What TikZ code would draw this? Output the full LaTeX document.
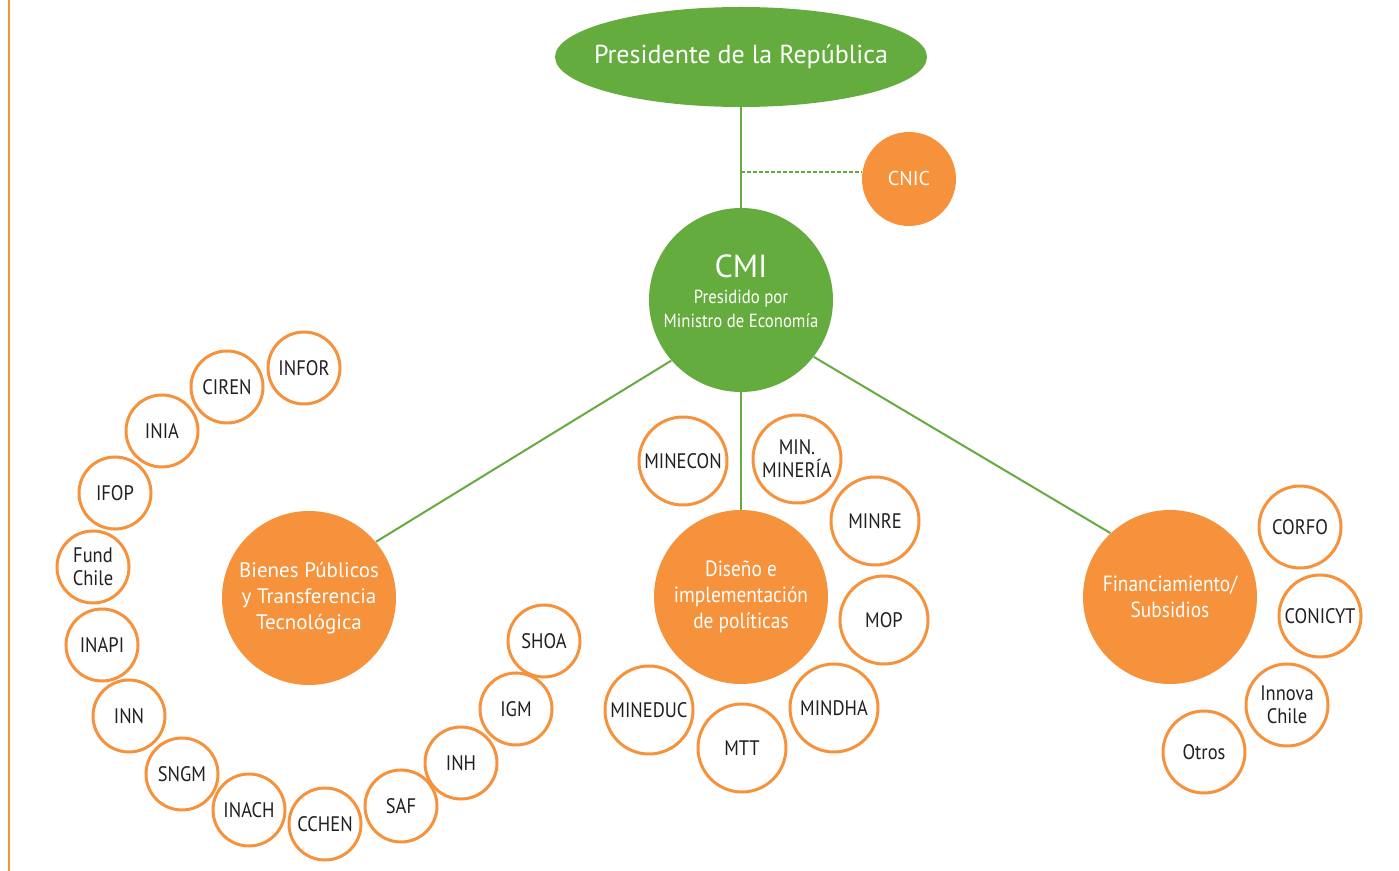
\documentclass[tikz,border=0pt]{standalone}
\usepackage{fontspec}
\setmainfont{PT Sans}
\newfontfamily\estrecha{PT Sans}[FakeStretch=0.88]
\usetikzlibrary{shapes.geometric}
\definecolor{verde}{RGB}{101,172,62}
\definecolor{naranja}{RGB}{246,146,60}
\definecolor{tinta}{RGB}{35,31,32}
\tikzset{
  enlace/.style={draw=verde, line width=1pt},
  grande/.style={circle, fill=naranja, text=white, minimum size=87pt, inner sep=0pt, align=center, font=\estrecha\fontsize{11}{13}\selectfont},
  chico/.style={circle, draw=naranja, line width=1.5pt, fill=white, text=tinta, minimum size=#1, inner sep=0pt, align=center, font=\estrecha\fontsize{10.5}{11.5}\selectfont},
  chico/.default=36pt
}
\begin{document}
\begin{tikzpicture}[x=0.5pt, y=-0.5pt]
	\useasboundingbox (0,0) rectangle (1399,871);
	\draw [draw=naranja, line width=1pt] (9,0) -- (9,871);
	% cabeza
	\node [ellipse, fill=verde, minimum width=186pt, minimum height=50pt, inner sep=0pt,
	  label={[text=white, font=\fontsize{13}{15}\selectfont]center:Presidente de la República}] (presidente) at (741,57) {};
	\node [circle, fill=naranja, text=white, minimum size=47pt, inner sep=0pt, font=\fontsize{10}{12}\selectfont] (cnic) at (909,179) {CNIC};
	\node [circle, fill=verde, minimum size=92pt, inner sep=0pt,
	  label={[text=white, align=center, yshift=4.5pt]center:{{\fontsize{16}{18}\selectfont CMI}\\[1pt] {\estrecha\fontsize{9.5}{12}\selectfont Presidido por}\\ {\estrecha\fontsize{9.5}{12}\selectfont Ministro de Economía}}}] (cmi) at (741,300) {};
	% tres ejes
	\node [grande, font=\fontsize{10.5}{13}\selectfont] (bienes) at (309,598) {Bienes Públicos\\ y Transferencia\\ Tecnológica};
	\node [grande] (diseno) at (741,597) {Diseño e\\ implementación\\ de políticas};
	\node [grande] (financ) at (1170,597) {Financiamiento/\\ Subsidios};
	\coordinate (tap) at (741,172);
	\draw [enlace] (presidente) -- (cmi);
	\draw [enlace, dash pattern=on 2pt off 1pt, line width=0.6pt] (tap) -- (tap -| cnic.west);
	\draw [enlace] (cmi.221) -- (bienes.40);
	\draw [enlace] (cmi) -- (diseno);
	\draw [enlace] (cmi.322) -- (financ.133);
	% bienes publicos
	\node [chico] (infor) at (304,368) {INFOR};
	\node [chico] (ciren) at (227,387) {CIREN};
	\node [chico] (inia) at (162,431) {INIA};
	\node [chico] (ifop) at (115,493) {IFOP};
	\node [chico] (fundchile) at (93,567) {Fund\\ Chile};
	\node [chico] (inapi) at (102,645) {INAPI};
	\node [chico] (inn) at (129,716) {INN};
	\node [chico] (sngm) at (182,774) {SNGM};
	\node [chico] (inach) at (249,810) {INACH};
	\node [chico] (cchen) at (325,824) {CCHEN};
	\node [chico] (saf) at (401,806) {SAF};
	\node [chico] (inh) at (461,763) {INH};
	\node [chico] (igm) at (516,709) {IGM};
	\node [chico] (shoa) at (544,641) {SHOA};
	% ministerios
	\node [chico=44pt] (minecon) at (683,461) {MINECON};
	\node [chico=44pt] (minmineria) at (797,459) {MIN.\\ MINERÍA};
	\node [chico=44pt] (minre) at (875,521) {MINRE};
	\node [chico=44pt] (mop) at (884,620) {MOP};
	\node [chico=44pt] (mindha) at (834,708) {MINDHA};
	\node [chico=44pt] (mtt) at (742,748) {MTT};
	\node [chico=44pt] (mineduc) at (649,710) {MINEDUC};
	% financiamiento
	\node [chico=41pt] (corfo) at (1300,527) {CORFO};
	\node [chico=41pt] (conicyt) at (1320,616) {CONICYT};
	\node [chico=41pt] (innova) at (1287,705) {Innova\\ Chile};
	\node [chico=41pt] (otros) at (1204,752) {Otros};
\end{tikzpicture}
\end{document}
